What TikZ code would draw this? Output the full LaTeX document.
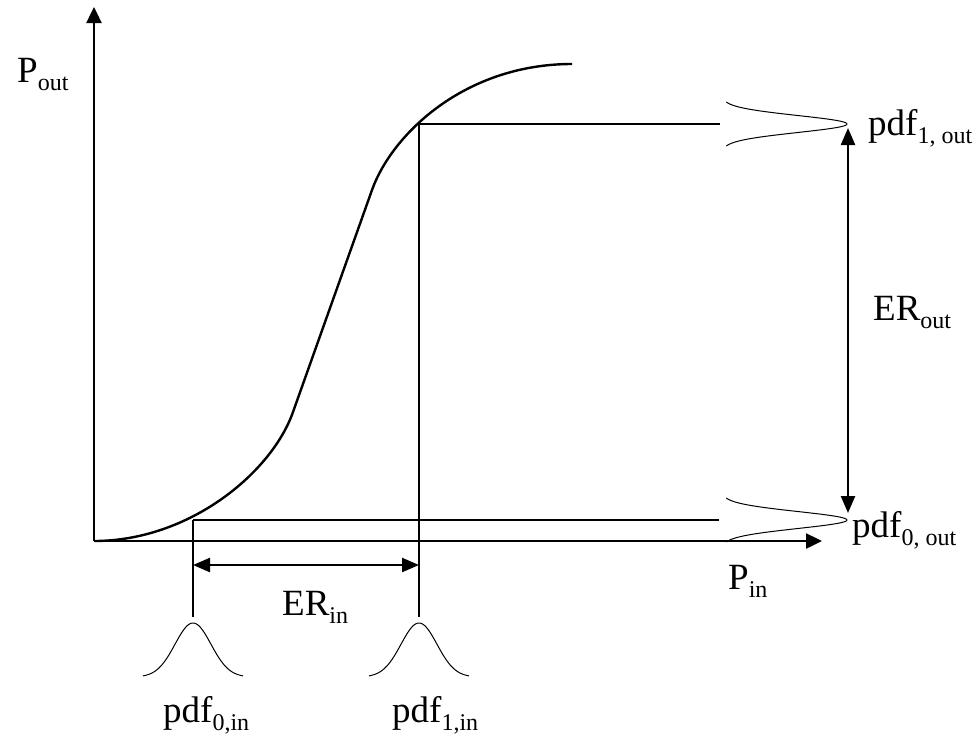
\documentclass[tikz,border=0pt]{standalone}
\usepackage{fontspec}
\setmainfont{Liberation Serif}
\usetikzlibrary{arrows.meta}
\newcommand{\lowtxt}[1]{\raisebox{-8pt}{\fontsize{24}{24}\selectfont #1}}
\begin{document}
\begin{tikzpicture}[x=1pt,y=-1pt,
  every node/.style={font=\fontsize{37}{40}\selectfont,inner sep=0pt},
  lbl/.style={anchor=base west},
  ln/.style={line width=2.4pt},
  ax/.style={line width=2.4pt,-{Triangle[length=16pt,width=15pt]}},
  dbl/.style={line width=2.4pt,{Triangle[length=17pt,width=14pt]}-{Triangle[length=17pt,width=14pt]}},
  pdf/.style={line width=1pt}]
\useasboundingbox (0,0) rectangle (976,737);
\coordinate (o) at (94,541);
\coordinate (ytop) at (94,7);
\coordinate (xend) at (822,541);
\coordinate (k1) at (293,412);
\coordinate (k2) at (372,190);
\coordinate (cend) at (572,64);
\coordinate (p0) at (193,520);
\coordinate (p1) at (419,124);
\coordinate (h0) at (719,520);
\coordinate (h1) at (720,124);
\coordinate (v0) at (193,617);
\coordinate (v1) at (419,617);
\coordinate (ei0) at (193,565);
\coordinate (ei1) at (419,565);
\coordinate (eo1) at (848,128);
\coordinate (eo0) at (848,513);
\draw[ax] (o) -- (ytop);
\draw[ax] (o) -- (xend);
\draw[ln] (o) .. controls (190,541) and (272,472) .. (k1) -- (k2)
  .. controls (392,134) and (465,64) .. (cend);
\draw[ln] (p1) -- (h1);
\draw[ln] (p0) -- (h0);
\draw[ln] (p1) -- (v1);
\draw[ln] (p0) -- (v0);
\draw[dbl] (ei0) -- (ei1);
\draw[dbl] (eo1) -- (eo0);
\foreach \c in {193,419}
  \draw[pdf] plot[domain=-50:50,samples=80,smooth] ({\c+\x},{677-54*exp(-\x*\x/648)});
\foreach \c in {124,520}
  \draw[pdf] plot[domain=-22:22,samples=80,smooth] ({722+125*exp(-\x*\x/144)},{\c+\x});
\node[lbl] (pout) at (17,82) {P\lowtxt{out}};
\node[lbl] (pin) at (728,589) {P\lowtxt{in}};
\node[lbl] (pdf1out) at (868,135) {pdf\lowtxt{1, out}};
\node[lbl] (erout) at (873,320) {ER\lowtxt{out}};
\node[lbl] (pdf0out) at (852,537) {pdf\lowtxt{0, out}};
\node[lbl] (erin) at (282,615) {ER\lowtxt{in}};
\node[lbl] (pdf0in) at (163,722) {pdf\lowtxt{0,in}};
\node[lbl] (pdf1in) at (392,722) {pdf\lowtxt{1,in}};
\end{tikzpicture}
\end{document}
